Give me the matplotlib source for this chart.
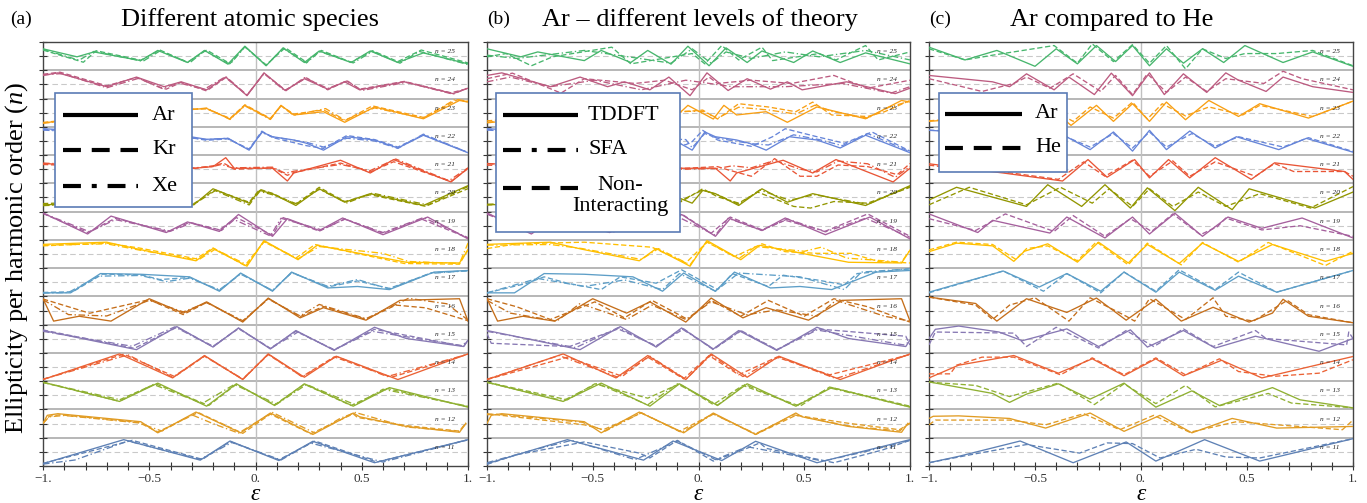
import numpy as np
import matplotlib.pyplot as plt
from matplotlib.lines import Line2D
from matplotlib.patches import Rectangle
from matplotlib.ticker import MultipleLocator, FixedLocator, NullFormatter

plt.rcParams['font.family'] = ['Liberation Serif', 'DejaVu Serif']
plt.rcParams['mathtext.fontset'] = 'custom'
plt.rcParams['mathtext.rm'] = 'Liberation Serif'
plt.rcParams['mathtext.it'] = 'Liberation Serif:italic'

# harmonic orders, top row first
orders = list(range(25, 10, -1))
row_colors = {11: '#5e81b5', 12: '#e19c24', 13: '#8fb032', 14: '#eb6235', 15: '#8778b3',
              16: '#c56e1a', 17: '#5d9ec7', 18: '#ffbf00', 19: '#a5609d', 20: '#929600',
              21: '#e95536', 22: '#6685d9', 23: '#f89f13', 24: '#bc5b80', 25: '#47b66d'}

x_ticks = [-1, -0.5, 0, 0.5, 1]
x_tick_labels = ['\u22121.', '\u22120.5', '0.', '0.5', '1.']

titles = ['Different atomic species', 'Ar \u2013 different levels of theory', 'Ar compared to He']
tags = ['(a)', '(b)', '(c)']

# curves: (driver ellipticity, harmonic ellipticity)
ar_tddft = {
    25: [(-1, .54), (-.84, -.05), (-.76, .31), (-.54, -.33), (-.46, .42), (-.32, -.47), (-.24, .42), (-.13, -.59), (-.05, .73), (.05, -.71), (.13, .61), (.23, -.47), (.30, .38), (.45, -.47), (.54, .38), (.67, -.47), (.79, .24), (1, -.57)],
    24: [(-1, .66), (-.93, .85), (-.70, -.17), (-.56, .54), (-.43, -.17), (-.35, .19), (-.23, -.40), (-.14, .54), (-.04, -.83), (.04, .85), (.14, -.45), (.23, .42), (.34, -.35), (.42, .19), (.49, -.40), (.70, .19), (.93, -.68), (1, -.28)],
    23: [(-1, -.75), (-.70, -.28), (-.35, .19), (-.23, .31), (-.12, -.47), (-.05, .54), (.07, -.47), (.12, .54), (.18, -.17), (.32, .07), (.42, -.71), (.56, .42), (.79, -.45), (.96, .90), (1, .78)],
    22: [(-1, .90), (-.70, .66), (-.35, .42), (-.23, .12), (-.13, .19), (-.03, -.68), (.03, .66), (.08, .31), (.18, .07), (.24, -.17), (.32, -.68), (.43, .31), (.56, .07), (.67, -.52), (.79, .42), (1, -.87)],
    21: [(-1, .42), (-.70, .19), (-.29, .07), (-.20, .19), (-.14, .85), (-.10, .07), (.08, .07), (.15, -.87), (.18, -.28), (.40, .66), (.54, -.28), (.65, .71), (.92, -.94), (1, .07)],
    20: [(-1, -.54), (-.70, -.42), (-.29, -.54), (-.20, .64), (-.03, -.42), (.02, .52), (.08, .28), (.19, -.59), (.30, .64), (.42, -.35), (.54, .28), (.79, -.59), (1, .87)],
    19: [(-1, .94), (-.79, -.61), (-.68, .71), (-.42, -.50), (-.32, .28), (-.17, -.42), (-.08, .83), (.08, -.78), (.15, .52), (.30, -.35), (.41, .57), (.60, -.66), (.81, .64), (1, -.97)],
    18: [(-1, .71), (-.70, .87), (-.55, .35), (-.28, -.50), (-.20, .40), (-.04, -.90), (.04, .99), (.20, -.42), (.29, .64), (.71, -.61), (.96, -.66), (1, .28)],
    17: [(-1, -.78), (-.87, -.78), (-.73, .64), (-.54, .59), (-.31, .40), (-.17, -.66), (-.07, .68), (.08, -.66), (.17, .75), (.34, -.42), (.48, -.31), (.63, -.54), (.84, .75), (1, .87)],
    16: [(-1, .87), (-.95, -.78), (-.83, -.42), (-.68, -.78), (-.50, .87), (-.34, -.19), (-.23, .64), (-.06, -.85), (.06, .92), (.21, -.54), (.32, .21), (.52, -.71), (.68, .75), (.96, .87), (1, -.78)],
    15: [(-1, .61), (-.56, -.80), (-.37, .90), (-.20, -.61), (-.08, .80), (.07, -.75), (.19, .61), (.37, -.85), (.56, .85), (.71, .02), (.98, -.57), (1, -.09)],
    14: [(-1, -.92), (-.64, .97), (-.39, -.80), (-.24, .85), (-.06, -.92), (.06, .97), (.23, -.75), (.38, .80), (.67, -.92), (1, .97)],
    13: [(-1, .97), (-.64, -.45), (-.46, .90), (-.23, -.80), (-.09, .85), (.09, -.75), (.23, .85), (.46, -.80), (.63, .57), (1, -.87)],
    12: [(-1, .02), (-.98, .61), (-.93, .73), (-.54, .14), (-.46, -.68), (-.28, .85), (-.07, -.68), (.07, .78), (.27, -.80), (.46, .78), (.49, .50), (.71, -.21), (.96, -.64), (.99, .02)],
    11: [(-1, -.87), (-.62, .90), (-.26, -.61), (-.12, .80), (.11, -.64), (.27, .78), (.56, -.80), (1, .90)],
}

kr = {
    25: [(-1, .45), (-.81, -.45), (-.75, .40), (-.54, -.30), (-.45, .45), (-.32, -.45), (-.23, .45), (-.12, -.55), (-.05, .70), (.05, -.65), (.14, .62), (.24, -.45), (.31, .42), (.45, -.45), (.55, .40), (.67, -.40), (.78, .45), (1, -.50)],
    24: [(-1, .75), (-.92, .90), (-.70, -.10), (-.56, .50), (-.45, -.20), (-.42, -.35), (-.35, .15), (-.23, -.48), (-.14, .50), (-.04, -.80), (.04, .82), (.14, -.42), (.24, .48), (.34, -.40), (.43, .28), (.49, -.35), (.70, .22), (.92, -.62), (1, -.30)],
    23: [(-1, -.72), (-.70, -.25), (-.35, .25), (-.23, .28), (-.12, -.42), (-.05, .58), (.07, -.42), (.12, .50), (.18, -.10), (.32, .20), (.42, -.60), (.55, .50), (.79, -.35), (.95, .95), (1, .80)],
    22: [(-1, .85), (-.70, .60), (-.35, .35), (-.23, .05), (-.13, .15), (-.03, -.60), (.03, .72), (.08, .25), (.24, -.35), (.32, -.55), (.43, .40), (.56, .10), (.67, -.45), (.79, .45), (1, -.85)],
    21: [(-1, .35), (-.70, .15), (-.29, .05), (-.20, .25), (-.15, .45), (-.10, .00), (.08, .10), (.15, -.45), (.18, -.25), (.40, .45), (.54, -.20), (.65, .55), (.92, -.90), (1, .05)],
    20: [(-1, -.45), (-.70, -.30), (-.29, -.45), (-.19, .55), (-.03, -.35), (.02, .60), (.08, .30), (.19, -.50), (.30, .75), (.42, -.30), (.54, .20), (.80, -.65), (1, .65)],
    19: [(-1, .90), (-.79, -.50), (-.66, .55), (-.41, -.45), (-.31, .25), (-.17, -.30), (-.09, .60), (.08, -.70), (.13, .60), (.30, -.40), (.42, .50), (.60, -.55), (.78, .50), (1, -.90)],
    18: [(-1, .60), (-.70, .80), (-.55, .45), (-.28, -.35), (-.20, .45), (-.05, -.85), (.04, .90), (.19, -.30), (.28, .70), (.70, -.70), (.96, -.75), (1, .35)],
    17: [(-1, -.75), (-.86, -.70), (-.72, .60), (-.54, .55), (-.45, .20), (-.31, .35), (-.17, -.60), (-.07, .65), (.08, -.62), (.17, .72), (.34, -.35), (.48, .10), (.63, -.45), (.83, .70), (1, .85)],
    16: [(-1, .85), (-.78, -.20), (-.50, .80), (-.34, -.30), (-.23, .60), (-.06, -.80), (.06, .88), (.21, -.45), (.32, .30), (.52, -.65), (.66, .40), (.80, .20), (1, -.75)],
    15: [(-1, .65), (-.57, -.70), (-.37, .85), (-.20, -.55), (-.08, .75), (.07, -.70), (.19, .55), (.37, -.80), (.56, .70), (.98, -.55), (1, -.10)],
    14: [(-1, -.90), (-.62, .95), (-.38, -.70), (-.24, .80), (-.06, -.90), (.06, .92), (.22, -.70), (.37, .75), (.64, -.75), (1, .95)],
    13: [(-1, .95), (-.65, -.40), (-.47, .85), (-.22, -.75), (-.09, .82), (.09, -.70), (.23, .82), (.45, -.75), (.62, .50), (1, -.85)],
    12: [(-1, .00), (-.97, .55), (-.92, .65), (-.55, .10), (-.46, -.62), (-.27, .82), (-.06, -.72), (.07, .70), (.26, -.75), (.46, .72), (.48, .45), (.71, -.15), (.96, -.55), (.99, .05)],
    11: [(-1, -.85), (-.58, .85), (-.25, -.55), (-.12, .75), (.11, -.58), (.28, .80), (.57, -.75), (1, .88)],
}

xe = {
    25: [(-1, .50), (-.83, -.30), (-.76, .35), (-.53, -.38), (-.45, .38), (-.31, -.50), (-.24, .40), (-.12, -.60), (-.05, .68), (.05, -.68), (.13, .58), (.24, -.50), (.30, .35), (.46, -.50), (.55, .35), (.68, -.52), (.77, .35), (1, -.62)],
    24: [(-1, .70), (-.91, .80), (-.70, -.25), (-.55, .45), (-.44, -.30), (-.36, .10), (-.24, -.35), (-.14, .58), (-.04, -.78), (.04, .80), (.14, -.50), (.23, .50), (.34, -.30), (.43, .25), (.50, -.45), (.71, .15), (.93, -.72), (1, -.25)],
    23: [(-1, -.78), (-.70, -.32), (-.35, .15), (-.23, .34), (-.12, -.50), (-.05, .50), (.07, -.50), (.12, .50), (.18, -.20), (.33, .30), (.42, -.55), (.56, .35), (.79, -.40), (.94, .98), (1, .85)],
    22: [(-1, .80), (-.70, .55), (-.35, .30), (-.23, .10), (-.13, .20), (-.03, -.65), (.03, .62), (.08, .30), (.24, -.10), (.32, -.45), (.43, .20), (.56, .00), (.67, -.55), (.79, .50), (1, -.85)],
    21: [(-1, .45), (-.70, .25), (-.29, .10), (-.20, .20), (-.16, .35), (-.11, .10), (.08, .15), (.14, -.30), (.18, -.15), (.40, .35), (.54, -.10), (.66, .75), (.91, -.85), (1, .10)],
    20: [(-1, -.60), (-.70, -.45), (-.29, -.50), (-.19, .50), (-.03, -.55), (.02, .45), (.08, .20), (.19, -.45), (.30, .60), (.43, -.40), (.55, .32), (.81, -.55), (1, .80)],
    19: [(-1, .92), (-.78, -.45), (-.66, .45), (-.40, -.40), (-.30, .20), (-.16, -.35), (-.10, .45), (.07, -.75), (.12, .55), (.31, -.30), (.42, .48), (.60, -.50), (.79, .60), (1, -.88)],
    18: [(-1, .65), (-.70, .75), (-.55, .30), (-.27, -.45), (-.19, .35), (-.04, -.80), (.04, .92), (.20, -.35), (.30, .55), (.60, .05), (.72, -.55), (.96, -.70), (1, .80)],
    17: [(-1, -.80), (-.88, -.75), (-.74, .45), (-.54, .50), (-.42, .05), (-.31, .30), (-.17, -.55), (-.07, .60), (.08, -.60), (.17, .70), (.34, -.30), (.48, .20), (.63, -.50), (.82, .65), (1, .85)],
    16: [(-1, .80), (-.88, -.30), (-.70, -.40), (-.50, .75), (-.34, -.10), (-.23, .58), (-.06, -.75), (.06, .85), (.21, -.40), (.30, .45), (.52, -.60), (.72, .90), (.90, .50), (1, -.70)],
    15: [(-1, .55), (-.58, -.55), (-.38, .88), (-.20, -.58), (-.08, .78), (.07, -.72), (.20, .50), (.37, -.82), (.55, .55), (.97, -.50), (1, -.15)],
    14: [(-1, -.90), (-.60, .90), (-.39, -.75), (-.24, .82), (-.06, -.88), (.06, .95), (.22, -.72), (.38, .78), (.62, -.70), (1, .95)],
    13: [(-1, .95), (-.63, -.35), (-.48, .80), (-.25, -.60), (-.10, .80), (.10, -.65), (.24, .80), (.47, -.70), (.60, .45), (1, -.80)],
    12: [(-1, .05), (-.97, .50), (-.90, .60), (-.55, .05), (-.44, -.55), (-.30, .65), (-.20, .00), (-.08, -.70), (.08, .82), (.28, -.70), (.40, .40), (.47, .82), (.71, -.25), (.96, -.58), (.99, .00)],
    11: [(-1, -.90), (-.85, -.60), (-.60, .80), (-.26, -.55), (-.11, .70), (.12, -.60), (.26, .65), (.60, -.75), (1, .90)],
}

sfa = {
    25: [(-1, .07), (-.86, -.17), (-.54, .42), (-.33, -.05), (-.13, -.52), (-.03, .54), (.06, -.52), (.13, .31), (.25, -.17), (.41, .31), (.57, -.05), (.79, .42), (1, -.28)],
    24: [(-1, .19), (-.89, .54), (-.70, -.17), (-.49, .31), (-.27, -.40), (-.06, .31), (.03, .12), (.16, -.17), (.41, -.17), (.68, .07), (.91, -.64), (1, -.17)],
    23: [(-1, -.70), (-.70, -.35), (-.35, .05), (-.07, .10), (.02, .10), (.09, -.40), (.19, .40), (.33, .20), (.46, -.10), (.55, .55), (.63, .10), (.80, -.40), (.90, .40), (1, .85)],
    22: [(-1, .80), (-.70, .55), (-.35, .25), (-.06, .10), (-.03, -.50), (.03, .55), (.09, .20), (.25, -.20), (.33, -.30), (.45, .45), (.57, .10), (.68, -.35), (.80, .55), (1, -.80)],
    21: [(-1, .40), (-.70, .20), (-.35, .05), (-.06, .00), (.09, .05), (.16, .25), (.25, .10), (.36, .65), (.48, .00), (.56, -.20), (.66, .60), (.80, .40), (.93, -.60), (1, .20)],
    20: [(-1, -.50), (-.70, -.35), (-.30, -.45), (-.08, -.20), (.02, .55), (.09, .20), (.19, -.50), (.29, .55), (.43, -.20), (.55, .20), (.80, -.50), (1, .80)],
    19: [(-1, .85), (-.78, -.50), (-.66, .45), (-.40, -.45), (-.30, .20), (-.16, -.40), (-.09, .60), (.08, -.70), (.14, .55), (.30, -.35), (.42, .50), (.60, -.45), (.79, .55), (1, -.85)],
    18: [(-1, .65), (-.70, .70), (-.55, .40), (-.27, -.40), (-.19, .40), (-.04, -.80), (.04, .90), (.19, -.35), (.27, .55), (.50, .20), (.58, .50), (.70, -.30), (.96, -.60), (1, .30)],
    17: [(-1, -.78), (-.76, .28), (-.54, -.31), (-.35, .17), (-.17, -.54), (-.09, .64), (.08, -.66), (.19, .68), (.48, .40), (.69, -.54), (.77, .75), (1, .99)],
    16: [(-1, .75), (-.89, -.19), (-.67, -.78), (-.56, .52), (-.34, -.66), (-.22, .40), (-.06, -.66), (.06, .64), (.23, -.31), (.37, .05), (.56, -.42), (.65, .75), (.88, -.42), (1, -.78)],
    15: [(-1, .55), (-.58, -.65), (-.38, .82), (-.20, -.55), (-.08, .75), (.07, -.75), (.20, .58), (.37, -.82), (.56, .65), (.97, -.45), (1, -.20)],
    14: [(-1, -.90), (-.66, .85), (-.38, -.75), (-.23, .80), (-.06, -.90), (.06, .90), (.21, -.70), (.38, .75), (.65, -.85), (1, .95)],
    13: [(-1, .95), (-.64, -.40), (-.48, .88), (-.24, -.70), (-.10, .85), (.09, -.72), (.22, .80), (.46, -.78), (.62, .55), (1, -.85)],
    12: [(-1, .65), (-.96, .70), (-.55, .10), (-.44, -.55), (-.27, .80), (-.08, -.65), (.07, .70), (.27, -.75), (.45, .65), (.70, -.15), (.95, -.55), (1, .05)],
    11: [(-1, -.80), (-.78, .14), (-.60, .85), (-.30, -.57), (-.10, .80), (.08, -.57), (.23, .38), (.59, -.68), (.79, .02), (1, .85)],
}

non_interacting = {
    25: [(-1, -.05), (-.91, .19), (-.79, -.71), (-.69, -.05), (-.41, .66), (-.32, -.57), (-.03, .19), (.03, -.57), (.11, .78), (.19, -.28), (.30, .66), (.35, -.33), (.57, .19), (.65, -.28), (.79, .78), (.85, -.28), (1, .31)],
    24: [(-1, .42), (-.88, .83), (-.65, -.64), (-.54, .42), (-.30, .07), (-.16, .31), (-.03, -.40), (.05, .54), (.09, .07), (.25, .31), (.44, .07), (.64, .66), (.80, -.28), (1, .31)],
    23: [(-1, -.60), (-.70, -.30), (-.35, .10), (-.07, .07), (.02, .19), (.09, -.47), (.19, .66), (.33, .42), (.46, .07), (.54, .78), (.63, -.17), (.80, -.28), (.88, .07), (1, .90)],
    22: [(-1, .85), (-.70, .60), (-.35, .30), (-.06, -.28), (-.03, -.05), (.02, .78), (.09, .07), (.25, -.40), (.35, .31), (.41, .90), (.56, .31), (.69, -.17), (.82, .66), (1, -.75)],
    21: [(-1, .30), (-.70, .15), (-.35, .10), (-.06, .07), (.09, .19), (.14, -.05), (.25, -.52), (.36, .78), (.48, -.52), (.56, -.52), (.66, .31), (.80, .19), (.94, -.40), (1, .42)],
    20: [(-1, -.55), (-.70, -.40), (-.30, -.50), (-.08, -.30), (.02, .64), (.09, .05), (.19, -.42), (.28, .40), (.45, -.66), (.53, -.78), (.64, -.30), (.80, -.42), (1, .75)],
    19: [(-1, .90), (-.79, -.40), (-.66, .60), (-.40, -.40), (-.30, .30), (-.17, -.30), (-.08, .87), (.06, -.55), (.15, .64), (.30, -.30), (.41, .40), (.60, -.40), (.80, .87), (1, -.78)],
    18: [(-1, .40), (-.86, .75), (-.54, .87), (-.22, .50), (-.06, -.66), (.04, .87), (.17, -.19), (.30, .75), (.41, .17), (.56, .05), (.72, .05), (.85, -.55), (1, -.66)],
    17: [(-1, -.78), (-.81, -.07), (-.73, .40), (-.62, -.07), (-.46, -.54), (-.37, .40), (-.20, -.07), (-.08, .92), (.09, -.54), (.16, .64), (.33, -.31), (.40, .52), (.56, .17), (.69, -.19), (.75, .64), (1, .99)],
    16: [(-1, .87), (-.86, .28), (-.70, -.66), (-.49, .64), (-.35, -.54), (-.22, .75), (-.05, -.66), (.06, .75), (.20, -.42), (.33, .75), (.50, -.42), (.64, .87), (.80, .28), (1, -.85)],
    15: [(-1, .38), (-.98, -.33), (-.61, -.57), (-.38, .73), (-.20, -.52), (-.07, .73), (.07, -.80), (.20, .61), (.37, -.80), (.56, .73), (.98, .19), (1, -.45)],
    14: [(-1, -.92), (-.62, .73), (-.36, -.68), (-.24, .73), (-.07, -.87), (.05, .85), (.19, -.57), (.37, .73), (.62, -.57), (1, .92)],
    13: [(-1, .97), (-.62, -.33), (-.49, .85), (-.24, -.21), (-.09, .85), (.07, -.68), (.21, .73), (.48, -.80), (.62, .61), (1, -.80)],
    12: [(-1, .73), (-.54, -.09), (-.45, -.45), (-.27, .78), (-.09, -.57), (.07, .73), (.27, -.80), (.46, .61), (.71, .02), (.95, -.45), (1, .02)],
    11: [(-1, -.92), (-.86, -.21), (-.54, .73), (-.28, -.09), (-.23, -.45), (-.10, .85), (.07, -.68), (.21, .14), (.29, .66), (.32, .26), (.64, -.80), (.87, .14), (1, .85)],
}

ar_c = {
    25: [(-1, .66), (-.83, -.28), (-.68, .42), (-.50, -.75), (-.40, .54), (-.30, -.57), (-.21, .78), (-.12, -.40), (-.04, .78), (.04, -.71), (.12, .54), (.20, -.52), (.29, .54), (.39, -.47), (.49, .78), (.67, -.47), (.81, .31), (1, -.75)],
    24: [(-1, .66), (-.70, .19), (-.62, -.17), (-.54, .78), (-.41, -.40), (-.34, .54), (-.22, -.75), (-.14, .83), (-.04, -.83), (.04, .85), (.11, -.75), (.20, .78), (.31, -.59), (.40, .85), (.46, .31), (.59, -.52), (.67, .54), (.81, -.17), (1, -.59)],
    23: [(-1, -.64), (-.70, -.30), (-.40, .00), (-.33, -.94), (-.21, .54), (-.13, -.64), (-.04, .66), (.04, -.64), (.12, .78), (.21, -.52), (.32, .90), (.46, -.28), (.56, .66), (.79, -.40), (1, .85)],
    22: [(-1, .78), (-.70, .55), (-.35, .30), (-.24, -.64), (-.13, .66), (-.04, -.75), (.04, .78), (.12, -.64), (.23, .73), (.35, -.52), (.45, .31), (.65, -.64), (.78, .19), (1, -.83)],
    21: [(-1, .40), (-.90, .20), (-.65, -.28), (-.37, -.87), (-.25, .71), (-.16, -.59), (-.03, .71), (.04, -.64), (.13, .71), (.23, -.64), (.35, .85), (.52, -.75), (.63, .47), (.96, -.17), (1, -.75)],
    20: [(-1, -.19), (-.87, .75), (-.54, -.66), (-.44, .94), (-.28, -.66), (-.17, .94), (-.05, -.78), (.03, .71), (.16, -.97), (.27, .75), (.43, -.90), (.51, .64), (.82, -.78), (1, .40)],
    19: [(-1, .87), (-.77, -.50), (-.70, .40), (-.43, -.54), (-.35, .64), (-.17, -.90), (-.04, .64), (.04, -.61), (.16, .92), (.29, -.78), (.41, .64), (.57, -.19), (.76, .57), (1, -.90)],
    18: [(-1, .17), (-.87, .80), (-.70, .60), (-.60, -.54), (-.55, .20), (-.44, .75), (-.30, -.60), (-.20, .87), (-.06, -.66), (.03, .70), (.18, -.70), (.29, .80), (.46, -.54), (.62, .70), (.87, -.54), (1, .05)],
    17: [(-1, -.73), (-.65, .83), (-.48, -.35), (-.35, .64), (-.19, -.66), (-.08, .75), (.07, -.73), (.18, .75), (.35, -.59), (.46, .45), (.64, -.73), (1, .87)],
    16: [(-1, .99), (-.78, .52), (-.68, -.78), (-.54, .87), (-.35, -.14), (-.21, .92), (-.07, -.71), (.01, .17), (.07, .83), (.19, -.78), (.34, .24), (.51, -.85), (.62, -.19), (.67, .83), (.79, -.42), (1, -.90)],
    15: [(-1, .02), (-.97, .70), (-.86, .94), (-.67, .50), (-.56, -.14), (-.35, .73), (-.20, -.57), (-.05, .66), (.03, -.61), (.20, .61), (.35, -.68), (.54, .19), (.84, -.92), (1, .02)],
    14: [(-1, -.80), (-.86, .14), (-.60, .85), (-.39, -.45), (-.23, .61), (-.08, -.64), (.07, .61), (.20, -.64), (.38, .50), (.57, -.80), (1, .78)],
    13: [(-1, .99), (-.70, .14), (-.62, -.52), (-.54, .09), (-.39, .85), (-.24, -.28), (-.08, .90), (.07, -.87), (.24, .33), (.37, -.75), (.62, .57), (.75, -.33), (1, -.92)],
    12: [(-1, .38), (-.98, .54), (-.86, .57), (-.62, .38), (-.45, -.33), (-.24, .78), (-.08, -.57), (.09, .61), (.24, -.68), (.43, .38), (.64, -.33), (1, -.21)],
    11: [(-1, -.80), (-.86, -.33), (-.57, .80), (-.32, -.80), (-.07, .73), (.07, -.68), (.30, .90), (.56, -.68), (1, .97)],
}

he_c = {
    25: [(-1, .54), (-.83, -.28), (-.70, .07), (-.41, .78), (-.30, -.52), (-.23, .90), (-.13, -.40), (-.04, .85), (.04, -.52), (.12, .78), (.21, -.94), (.29, .54), (.40, -.17), (.49, .19), (.64, .19), (.81, .42), (1, -.71)],
    24: [(-1, .42), (-.75, -.52), (-.60, .07), (-.54, .54), (-.43, -.28), (-.38, .19), (-.32, .78), (-.19, -.52), (-.12, .66), (-.04, -.75), (.03, .78), (.12, -.59), (.21, .54), (.31, -.52), (.40, .42), (.58, .07), (.67, .97), (.76, .42), (1, -.40)],
    23: [(-1, -.60), (-.70, -.25), (-.40, .05), (-.32, -.64), (-.24, .42), (-.13, -.40), (-.04, .78), (.03, -.47), (.10, .66), (.21, -.24), (.32, .42), (.48, -.17), (.56, .54), (.81, -.28), (1, .85)],
    22: [(-1, .80), (-.70, .55), (-.35, .28), (-.24, -.45), (-.13, .54), (-.04, -.52), (.04, .66), (.12, -.45), (.24, .54), (.35, -.40), (.46, .31), (.67, -.45), (.79, .24), (1, -.78)],
    21: [(-1, .30), (-.90, .10), (-.65, -.20), (-.39, -.75), (-.27, .54), (-.17, -.52), (-.04, .66), (.04, -.52), (.15, .61), (.23, -.52), (.35, .54), (.54, -.52), (.63, .42), (.72, -.17), (.96, -.17), (1, -.52)],
    20: [(-1, -.54), (-.81, .75), (-.54, -.54), (-.38, .75), (-.23, -.42), (-.15, .64), (-.04, -.66), (.04, .64), (.15, -.66), (.27, .40), (.40, -.66), (.56, .28), (.80, -.78), (1, .80)],
    19: [(-1, .52), (-.78, -.35), (-.64, .87), (-.41, -.42), (-.32, .75), (-.17, -.78), (-.05, .52), (.05, -.42), (.15, .87), (.28, -.66), (.36, -.07), (.40, .57), (.57, -.31), (.75, 0), (1, -.78)],
    18: [(-1, .30), (-.87, .87), (-.70, .70), (-.59, -.40), (-.54, .40), (-.44, .60), (-.30, -.50), (-.21, .90), (-.06, -.80), (.03, .80), (.19, -.80), (.29, .85), (.46, -.60), (.60, .85), (.87, -.85), (1, .20)],
    17: [(-1, -.78), (-.65, .83), (-.46, -.66), (-.35, .64), (-.19, -.78), (-.08, .75), (.07, -.66), (.18, .92), (.35, -.54), (.46, .75), (.64, -.73), (1, .87)],
    16: [(-1, .99), (-.78, .40), (-.70, -.66), (-.62, .40), (-.50, .94), (-.34, -.78), (-.24, .94), (-.07, -.42), (-.03, -.78), (.04, .87), (.21, -.66), (.34, .94), (.40, -.42), (.53, -.78), (.69, .75), (.79, -.31), (1, -.90)],
    15: [(-1, -.45), (-.97, .50), (-.60, .42), (-.54, -.57), (-.40, .85), (-.20, -.68), (-.07, .61), (.06, -.57), (.20, .73), (.34, -.57), (.54, .61), (.59, .02), (.97, -.45), (.98, .50), (1, .02)],
    14: [(-1, -.50), (-.90, -.50), (-.87, .14), (-.75, .73), (-.60, .73), (-.38, -.57), (-.23, .68), (-.08, -.57), (.07, .68), (.21, -.57), (.37, .61), (.46, -.33), (.63, -.68), (.84, -.45), (1, .54)],
    13: [(-1, .97), (-.78, .73), (-.62, -.09), (-.39, .90), (-.22, -.68), (-.08, .85), (.07, -.61), (.21, .73), (.35, -.85), (.60, .14), (.71, -.57), (1, -.92)],
    12: [(-1, -.09), (-.97, .26), (-.62, .26), (-.45, -.09), (-.27, .73), (-.10, -.45), (.06, .61), (.23, -.64), (.45, .14), (.64, -.09), (.95, -.45), (1, .26)],
    11: [(-1, -.80), (-.78, -.14), (-.54, .54), (-.29, -.09), (-.16, .66), (-.04, .61), (.09, -.45), (.26, .19), (.40, -.38), (.56, -.45), (1, .97)],
}

dashed = (0, (4, 2))
dashdot = (0, (5, 2, 1, 2))

panels = [
    [(ar_tddft, '-', 'Ar'), (kr, dashed, 'Kr'), (xe, dashdot, 'Xe')],
    [(ar_tddft, '-', 'TDDFT'), (sfa, dashdot, 'SFA'), (non_interacting, dashed, 'Non-\nInteracting')],
    [(ar_c, '-', 'Ar'), (he_c, dashed, 'He')],
]
legend_dash = {'-': '-', dashed: (0, (4.3, 2.6)), dashdot: (0, (4.3, 2.6, 1.2, 2.6))}

# layout in picture pixels
W, H = 1367, 503
lefts = [43, 487, 929]
widths = [425, 423, 424]
title_x = [250, 700, 1112]
tag_x = [10, 487, 929]
legend_box = [(55, 93, 192, 207), (496, 93, 680, 232), (939, 93, 1067, 172)]
legend_handle_x = [(63, 138), (503, 578), (945, 1022)]
legend_text_x = [152, 588, 1035]
legend_row_y = [[115, 150, 186], [115, 150, 188], [114, 148]]


def fx(px):
    return px / W


def fy(py):
    return 1 - py / H


fig = plt.figure(figsize=(13.67, 5.03), dpi=100)

for i, series in enumerate(panels):
    ax = fig.add_axes([fx(lefts[i]), 37 / H, widths[i] / W, 424 / H])
    ax.set_xlim(-1, 1)
    ax.set_ylim(10.5, 25.5)

    for n in orders:
        ax.axhline(n + 0.5, color='#a3a3a3', lw=1.1, zorder=1)
        ax.axhline(n, color='#c9c9c9', lw=0.8, ls=(0, (5, 3)), zorder=1)
        ax.text(0.89, n + 0.16, f'n = {n}', fontsize=5.3, style='italic',
                ha='center', va='center', color='#222222', zorder=4)
    ax.axvline(0, color='#c0c0c0', lw=1.0, zorder=1)

    for data, ls, name in series:
        for n, pts in data.items():
            xs = [p[0] for p in pts]
            vs = np.array([p[1] for p in pts])
            ax.plot(xs, n + 0.48 * vs, color=row_colors[n], ls=ls, lw=0.95, zorder=3)

    # axis styling
    ax.xaxis.set_major_locator(FixedLocator(x_ticks))
    ax.set_xticklabels(x_tick_labels, fontsize=9.5)
    ax.xaxis.set_minor_locator(MultipleLocator(0.1))
    ax.yaxis.set_major_locator(MultipleLocator(0.5))
    ax.yaxis.set_major_formatter(NullFormatter())
    ax.tick_params(axis='both', which='both', direction='inout', length=6, width=0.8,
                   top=False, right=False, colors='#333333', pad=2)
    for sp in ax.spines.values():
        sp.set_color('#444444')
        sp.set_linewidth(1.0)

    # legend box drawn by hand to follow the original placement
    x0, y0, x1, y1 = legend_box[i]
    fig.add_artist(Rectangle((fx(x0), fy(y1)), (x1 - x0) / W, (y1 - y0) / H,
                             transform=fig.transFigure, facecolor='white',
                             edgecolor='#5b7bb5', lw=1.2, zorder=5))
    hx0, hx1 = legend_handle_x[i]
    for (data, ls, name), ry in zip(series, legend_row_y[i]):
        fig.add_artist(Line2D([fx(hx0), fx(hx1)], [fy(ry), fy(ry)], transform=fig.transFigure,
                              color='black', lw=3, ls=legend_dash[ls],
                              solid_capstyle='butt', dash_capstyle='butt', zorder=6))
        if '\n' in name:
            fig.text(fx(620), fy(ry + 8), name, fontsize=16, ha='center', va='center',
                     multialignment='center', linespacing=1.15, zorder=7)
        else:
            fig.text(fx(legend_text_x[i]), fy(ry), name, fontsize=16, ha='left',
                     va='center', zorder=7)

    fig.text(fx(lefts[i] + widths[i] / 2), fy(495), '\u03b5', fontsize=17,
             style='italic', ha='center', va='center')
    fig.text(fx(title_x[i]), fy(20), titles[i], fontsize=19, ha='center', va='center')
    fig.text(fx(tag_x[i]), fy(19), tags[i], fontsize=14, ha='left', va='center')

fig.text(fx(17), fy(258), 'Ellipticity per harmonic order ($n$)', fontsize=19,
         rotation=90, ha='center', va='center')

plt.savefig('out.png', dpi=100)
